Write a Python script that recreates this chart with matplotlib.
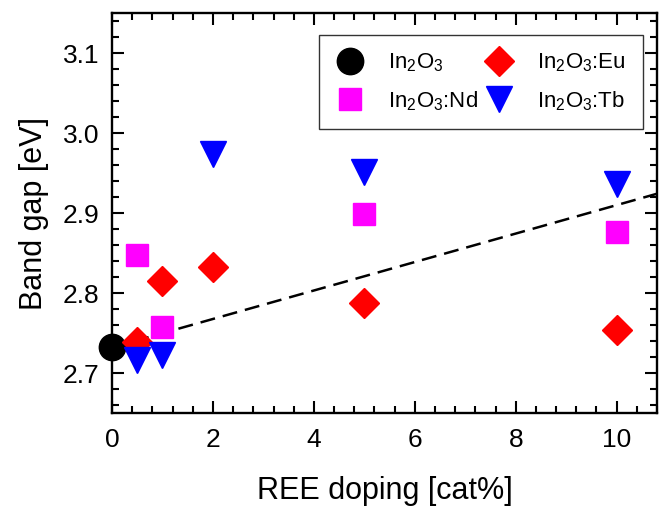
import matplotlib
matplotlib.use('Agg')
import matplotlib.pyplot as plt
from matplotlib.ticker import MultipleLocator

plt.rcParams['font.family'] = ['Liberation Sans', 'DejaVu Sans']
plt.rcParams['mathtext.fontset'] = 'custom'
plt.rcParams['mathtext.rm'] = 'Liberation Sans'

# data
x_pure = [0]
y_pure = [2.732]

x_nd = [0.5, 1, 5, 10]
y_nd = [2.848, 2.758, 2.899, 2.876]

x_eu = [0.5, 1, 2, 5, 10]
y_eu = [2.739, 2.815, 2.833, 2.788, 2.754]

x_tb = [0.5, 1, 2, 5, 10]
y_tb = [2.716, 2.722, 2.974, 2.952, 2.936]

# dashed trend line: intercept, slope
fit_a, fit_b = 2.732, 0.0178
fit_x = [0, 10.8]

fig = plt.figure(figsize=(6.64, 5.08), dpi=100)
ax = fig.add_axes([0.1687, 0.187, 0.8208, 0.787])

ax.plot(fit_x, [fit_a + fit_b*v for v in fit_x], ls=(0, (6, 3.2)), color='black', lw=1.8, zorder=1)

ax.plot(x_pure, y_pure, 'o', color='black', ms=19, ls='none', label=r'In$_2$O$_3$', zorder=3, clip_on=False)
ax.plot(x_nd, y_nd, 's', color='#ff00ff', ms=16, ls='none', label=r'In$_2$O$_3$:Nd', zorder=3)
ax.plot(x_eu, y_eu, 'D', color='red', ms=15.5, ls='none', label=r'In$_2$O$_3$:Eu', zorder=3)
ax.plot(x_tb, y_tb, 'v', color='blue', ms=19, ls='none', label=r'In$_2$O$_3$:Tb', zorder=3)

ax.set_xlim(0, 10.8)
ax.set_ylim(2.65, 3.15)
ax.xaxis.set_major_locator(MultipleLocator(2))
ax.xaxis.set_minor_locator(MultipleLocator(0.4))
ax.yaxis.set_major_locator(MultipleLocator(0.1))
ax.yaxis.set_minor_locator(MultipleLocator(0.02))
ax.yaxis.set_major_formatter(matplotlib.ticker.FormatStrFormatter('%.1f'))

ax.tick_params(which='both', direction='in', top=True, right=True, width=1.5, labelsize=19)
ax.tick_params(which='major', length=8.5)
ax.tick_params(which='minor', length=5)
ax.tick_params(axis='x', which='major', pad=11)
ax.tick_params(axis='y', which='major', pad=9)
for s in ax.spines.values():
    s.set_linewidth(1.7)

ax.set_xlabel('REE doping [cat%]', fontsize=22, labelpad=17)
ax.set_ylabel('Band gap [eV]', fontsize=22, labelpad=10)

leg = ax.legend(ncol=2, fontsize=16, loc='upper right', bbox_to_anchor=(0.974, 0.945),
                borderaxespad=0, frameon=True, fancybox=False, edgecolor='black',
                borderpad=0.75, handlelength=1.26, handletextpad=1.1,
                columnspacing=0.3, labelspacing=0.65)
leg.get_frame().set_linewidth(1.0)

plt.savefig('out.png', dpi=100)
